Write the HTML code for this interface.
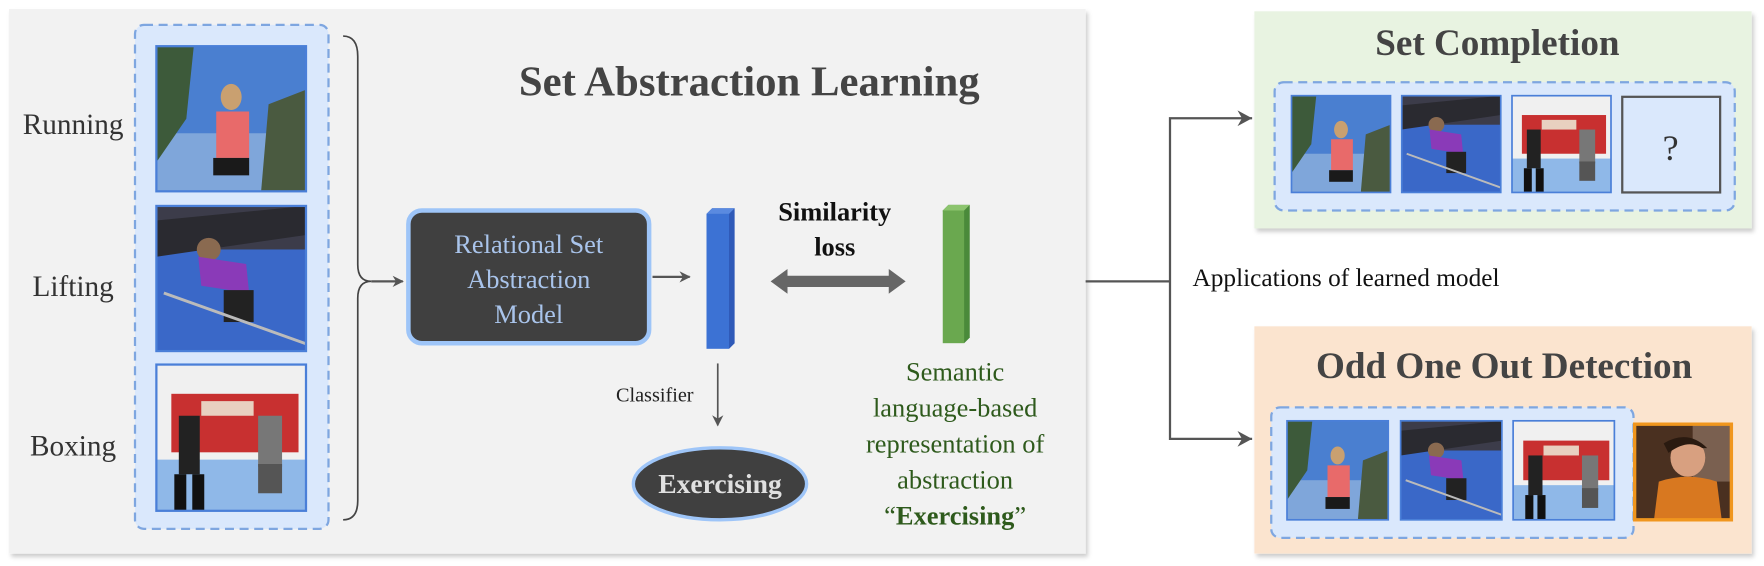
<!DOCTYPE html>
<html><head><meta charset="utf-8"><style>
html,body{margin:0;padding:0;background:#fff;width:1764px;height:566px;overflow:hidden}
svg{display:block}
text{font-family:"Liberation Serif","Times New Roman",serif}
</style></head><body>
<svg width="1764" height="566" viewBox="0 0 1568 503" xmlns="http://www.w3.org/2000/svg">
<defs>
<filter id="sh" x="-5%" y="-5%" width="110%" height="110%"><feDropShadow dx="2" dy="3" stdDeviation="2" flood-color="#000" flood-opacity="0.2"/></filter>
<marker id="ah" markerWidth="10" markerHeight="10" refX="9" refY="5" orient="auto" markerUnits="userSpaceOnUse"><path d="M0,0 L10,5 L0,10 L3,5 z" fill="#555"/></marker>
<symbol id="run" viewBox="0 0 100 100" preserveAspectRatio="none">
<rect width="100" height="100" fill="#4a7fd0"/>
<rect y="60" width="100" height="40" fill="#7fa6da"/>
<path d="M0,0 L25,0 L20,50 L0,80z" fill="#3d5a3a"/>
<path d="M75,40 L100,30 L100,100 L70,100z" fill="#4a5a40"/>
<ellipse cx="50" cy="35" rx="7" ry="9" fill="#c9a070"/>
<rect x="40" y="45" width="22" height="32" fill="#e86a6a"/>
<rect x="38" y="77" width="24" height="12" fill="#1a1a1a"/>
</symbol>
<symbol id="lift" viewBox="0 0 100 100" preserveAspectRatio="none">
<rect width="100" height="100" fill="#3a68c8"/>
<rect width="100" height="30" fill="#3c3c4a"/>
<path d="M0,10 L100,0 L100,20 L0,35z" fill="#2a2a30"/>
<ellipse cx="35" cy="30" rx="8" ry="8" fill="#8a6a50"/>
<path d="M28,35 L60,40 L62,60 L30,55z" fill="#8a3ab8"/>
<rect x="45" y="58" width="20" height="22" fill="#222"/>
<path d="M5,60 L100,95" stroke="#bbb" stroke-width="2"/>
</symbol>
<symbol id="box" viewBox="0 0 100 100" preserveAspectRatio="none">
<rect width="100" height="100" fill="#f0f0f0"/>
<rect x="10" y="20" width="85" height="40" fill="#c83030"/>
<rect x="30" y="25" width="35" height="10" fill="#e8d0c0"/>
<rect y="65" width="100" height="35" fill="#8fb8e8"/>
<rect x="15" y="35" width="14" height="40" fill="#222"/>
<rect x="12" y="75" width="8" height="25" fill="#111"/>
<rect x="24" y="75" width="8" height="25" fill="#111"/>
<rect x="68" y="35" width="16" height="35" fill="#777"/>
<rect x="68" y="68" width="16" height="20" fill="#555"/>
</symbol>
<symbol id="kid" viewBox="0 0 100 100" preserveAspectRatio="none">
<rect width="100" height="100" fill="#4a3020"/>
<rect x="60" width="40" height="60" fill="#7a6050"/>
<ellipse cx="55" cy="35" rx="18" ry="20" fill="#d8a080"/>
<path d="M30,20 Q55,5 75,25 L70,25 Q55,15 35,30z" fill="#2a1a10"/>
<path d="M20,100 L25,60 Q55,50 85,60 L90,100z" fill="#d87820"/>
</symbol>
</defs>

<rect x="8" y="8" width="957" height="484" fill="#f2f2f2" filter="url(#sh)"/>
<text x="666" y="85" font-size="38" font-weight="bold" fill="#444" text-anchor="middle">Set Abstraction Learning</text>

<rect x="120" y="22" width="172" height="448" rx="8" fill="#dae8fc" stroke="#7ea6e0" stroke-width="2" stroke-dasharray="8,5"/>
<use href="#run" x="139" y="41" width="133" height="129"/>
<rect x="139" y="41" width="133" height="129" fill="none" stroke="#4a7fd8" stroke-width="2"/>
<use href="#lift" x="139" y="183" width="133" height="129"/>
<rect x="139" y="183" width="133" height="129" fill="none" stroke="#4a7fd8" stroke-width="2"/>
<use href="#box" x="139" y="324" width="133" height="130"/>
<rect x="139" y="324" width="133" height="130" fill="none" stroke="#4a7fd8" stroke-width="2"/>

<text x="65" y="119" font-size="26" fill="#333" text-anchor="middle">Running</text>
<text x="65" y="263" font-size="26" fill="#333" text-anchor="middle">Lifting</text>
<text x="65" y="405" font-size="26" fill="#333" text-anchor="middle">Boxing</text>

<path d="M305,32 Q318,32 318,50 L318,235 Q318,250 330,250 Q318,250 318,265 L318,445 Q318,462 305,462" fill="none" stroke="#444" stroke-width="1.5"/>
<line x1="330" y1="250" x2="358" y2="250" stroke="#555" stroke-width="2" marker-end="url(#ah)"/>

<rect x="363" y="187" width="214" height="118" rx="12" fill="#404040" stroke="#9ec5f8" stroke-width="4"/>
<text x="470" y="225" font-size="23.5" fill="#a9c4eb" text-anchor="middle">Relational Set</text>
<text x="470" y="256" font-size="23.5" fill="#a9c4eb" text-anchor="middle">Abstraction</text>
<text x="470" y="287" font-size="23.5" fill="#a9c4eb" text-anchor="middle">Model</text>
<line x1="580" y1="246" x2="613" y2="246" stroke="#555" stroke-width="2" marker-end="url(#ah)"/>

<path d="M628,190 L633,185 L653,185 L653,305 L648,310 z" fill="#2f5ab8"/>
<rect x="628" y="190" width="20" height="120" fill="#3c72d4"/>
<path d="M628,190 L633,185 L653,185 L648,190z" fill="#5a8ae0"/>

<text x="742" y="196" font-size="23.5" font-weight="bold" fill="#111" text-anchor="middle">Similarity</text>
<text x="742" y="227" font-size="23.5" font-weight="bold" fill="#111" text-anchor="middle">loss</text>
<path d="M685,250 L700,239 L700,245 L790,245 L790,239 L805,250 L790,261 L790,255 L700,255 L700,261z" fill="#666"/>

<path d="M838,187 L843,182 L862,182 L862,300 L857,305z" fill="#4a8a3a"/>
<rect x="838" y="187" width="19" height="118" fill="#6aa84f"/>
<path d="M838,187 L843,182 L862,182 L857,187z" fill="#8cc46e"/>

<text x="582" y="357" font-size="18" fill="#222" text-anchor="middle">Classifier</text>
<line x1="638" y1="323" x2="638" y2="378" stroke="#555" stroke-width="1.5" marker-end="url(#ah)"/>
<ellipse cx="640" cy="430" rx="77" ry="32" fill="#404040" stroke="#9ec5f8" stroke-width="3"/>
<text x="640" y="438" font-size="24.5" font-weight="bold" fill="#e0e0e0" text-anchor="middle">Exercising</text>

<g font-size="23.5" fill="#2e5a1c" text-anchor="middle">
<text x="849" y="338">Semantic</text>
<text x="849" y="370">language-based</text>
<text x="849" y="402">representation of</text>
<text x="849" y="434">abstraction</text>
<text x="849" y="466">“<tspan font-weight="bold">Exercising</tspan>”</text>
</g>

<polyline points="965,250 1040,250" fill="none" stroke="#555" stroke-width="2"/>
<polyline points="1113,105 1040,105 1040,390 1113,390" fill="none" stroke="#555" stroke-width="2"/>
<path d="M1113,105 L1100,98 L1104,105 L1100,112z" fill="#555"/>
<path d="M1113,390 L1100,383 L1104,390 L1100,397z" fill="#555"/>
<text x="1060" y="254" font-size="22.5" fill="#111">Applications of learned model</text>

<rect x="1115" y="10" width="442" height="193" fill="#e8f3e1" filter="url(#sh)"/>
<text x="1331" y="49" font-size="33" font-weight="bold" fill="#444" text-anchor="middle">Set Completion</text>
<rect x="1133" y="73" width="409" height="114" rx="8" fill="#dae8fc" stroke="#7ea6e0" stroke-width="2" stroke-dasharray="8,5"/>
<use href="#run" x="1148" y="85" width="88" height="86"/>
<rect x="1148" y="85" width="88" height="86" fill="none" stroke="#4a7fd8" stroke-width="1.5"/>
<use href="#lift" x="1246" y="85" width="88" height="86"/>
<rect x="1246" y="85" width="88" height="86" fill="none" stroke="#4a7fd8" stroke-width="1.5"/>
<use href="#box" x="1344" y="85" width="88" height="86"/>
<rect x="1344" y="85" width="88" height="86" fill="none" stroke="#4a7fd8" stroke-width="1.5"/>
<rect x="1442" y="86" width="87" height="85" fill="#dae8fc" stroke="#555" stroke-width="2"/>
<text x="1485" y="142" font-size="32" fill="#333" text-anchor="middle">?</text>

<rect x="1115" y="290" width="442" height="202" fill="#fbe4cf" filter="url(#sh)"/>
<text x="1337" y="336" font-size="33" font-weight="bold" fill="#444" text-anchor="middle">Odd One Out Detection</text>
<rect x="1130" y="362" width="322" height="116" rx="8" fill="#dae8fc" stroke="#7ea6e0" stroke-width="2" stroke-dasharray="8,5"/>
<use href="#run" x="1144" y="374" width="90" height="88"/>
<rect x="1144" y="374" width="90" height="88" fill="none" stroke="#4a7fd8" stroke-width="1.5"/>
<use href="#lift" x="1245" y="374" width="90" height="88"/>
<rect x="1245" y="374" width="90" height="88" fill="none" stroke="#4a7fd8" stroke-width="1.5"/>
<use href="#box" x="1345" y="374" width="90" height="88"/>
<rect x="1345" y="374" width="90" height="88" fill="none" stroke="#4a7fd8" stroke-width="1.5"/>
<use href="#kid" x="1453" y="377" width="86" height="85"/>
<rect x="1453" y="377" width="86" height="85" fill="none" stroke="#f0961e" stroke-width="3"/>
</svg>
</body></html>
